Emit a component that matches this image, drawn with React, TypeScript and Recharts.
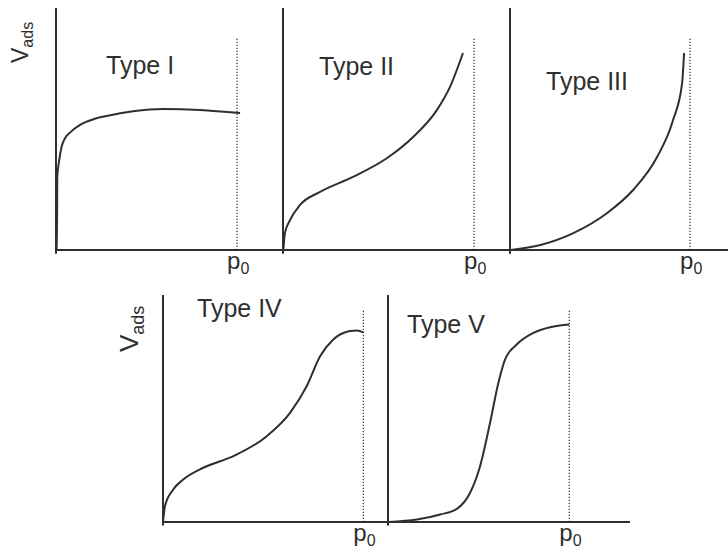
import { LineChart, Line, XAxis, YAxis, ReferenceLine } from 'recharts';

const INK = '#2f2f2f';
const FONT = '"Liberation Sans", Arial, Helvetica, sans-serif';

const typeIX = [0.003, 0.006, 0.007, 0.018, 0.031, 0.05, 0.077, 0.133, 0.206, 0.287, 0.425, 0.59, 0.796, 1.017];
const typeIY = [0, 14.5, 30.2, 37.2, 42.7, 46.2, 48.5, 51.7, 54.0, 55.5, 57.3, 58.3, 57.9, 56.6];

const typeIIX = [0.002, 0.01, 0.037, 0.089, 0.194, 0.366, 0.545, 0.681, 0.806, 0.874, 0.942];
const typeIIY = [0, 7.0, 12.4, 18.6, 24.0, 30.2, 38.0, 46.7, 57.9, 67.4, 81.4];

const typeIIIX = [0.003, 0.169, 0.352, 0.54, 0.684, 0.817, 0.906, 0.956, 0.967];
const typeIIIY = [0, 2.1, 7.0, 15.3, 24.8, 38.4, 53.7, 69.0, 81.4];

const typeIVX = [0, 0.01, 0.051, 0.101, 0.201, 0.351, 0.518, 0.634, 0.717, 0.784, 0.85, 0.933, 0.968, 1.0];
const typeIVY = [0, 7.0, 14.3, 18.7, 23.9, 29.0, 37.8, 48.1, 59.8, 73.0, 80.4, 84.1, 84.4, 83.5];

const typeVX = [0.003, 0.16, 0.288, 0.38, 0.453, 0.508, 0.563, 0.609, 0.646, 0.71, 0.802, 0.894, 1.0];
const typeVY = [0, 1.1, 3.3, 5.8, 12.9, 24.6, 43.7, 61.3, 71.6, 78.2, 83.3, 85.8, 87.0];

const P0_TICKS = [1];

const toRows = (xs: number[], ys: number[]) => xs.map((x, i) => ({ x, y: ys[i] }));

const P0Tick = ({ x, y }: any) => (
  <text x={x - 10} y={y + 19} fill={INK} fontSize={24} fontFamily={FONT}>
    p<tspan fontSize={16} dy={5}>0</tspan>
  </text>
);

interface PanelProps {
  xs: number[];
  ys: number[];
  left: number;      // page x of the y-axis
  top: number;       // page y of the axis top
  width: number;
  height: number;
  xMax: number;
  dotTop: number;    // height of the dotted p0 line, in y units
  padRight?: number;
}

const PAD = 10;
const XAXIS_H = 40;

function Panel({ xs, ys, left, top, width, height, xMax, dotTop, padRight = PAD }: PanelProps) {
  return (
    <div style={{ position: 'absolute', left: left - PAD, top: top - PAD }}>
      <LineChart
        width={width + PAD + padRight}
        height={height + PAD + XAXIS_H}
        data={toRows(xs, ys)}
        margin={{ top: PAD, right: padRight, left: PAD, bottom: 0 }}
      >
        <XAxis
          dataKey="x"
          type="number"
          domain={[0, xMax]}
          ticks={P0_TICKS}
          interval={0}
          height={XAXIS_H}
          tickLine={false}
          tickSize={0}
          tickMargin={0}
          tick={<P0Tick />}
          axisLine={{ stroke: INK, strokeWidth: 2 }}
          allowDataOverflow
        />
        <YAxis type="number" domain={[0, 100]} hide allowDataOverflow />
        {/* vertical axis, poking a little below the x-axis as in the drawing */}
        <ReferenceLine
          segment={[{ x: 0, y: -1.5 }, { x: 0, y: 100 }]}
          ifOverflow="visible"
          stroke={INK}
          strokeWidth={2}
        />
        <ReferenceLine
          segment={[{ x: 1, y: 0 }, { x: 1, y: dotTop }]}
          stroke={INK}
          strokeWidth={1.2}
          strokeDasharray="1.2 1.8"
        />
        <Line
          type="monotone"
          dataKey="y"
          stroke={INK}
          strokeWidth={2}
          dot={false}
          activeDot={false}
          isAnimationActive={false}
        />
      </LineChart>
    </div>
  );
}

export default function App() {
  return (
    <div style={{ position: 'absolute', left: 0, top: 0, width: 728, height: 554, overflow: 'hidden', background: '#fff' }}>
      <Panel xs={typeIX} ys={typeIY} left={56} top={8} width={227} height={242} xMax={1.254} dotTop={87.6} />
      <Panel xs={typeIIX} ys={typeIIY} left={283} top={8} width={227} height={242} xMax={1.188} dotTop={87.6} />
      <Panel xs={typeIIIX} ys={typeIIIY} left={510} top={8} width={218} height={242} xMax={1.211} dotTop={87.6} padRight={0} />
      <Panel xs={typeIVX} ys={typeIVY} left={163} top={295} width={225} height={227} xMax={1.123} dotTop={93.6} />
      <Panel xs={typeVX} ys={typeVY} left={388} top={295} width={242} height={227} xMax={1.335} dotTop={93.6} />

      <svg width={728} height={554} style={{ position: 'absolute', left: 0, top: 0, pointerEvents: 'none' }}>
        <g fill={INK} fontFamily={FONT} fontSize={25}>
          <text x={106} y={74}>Type I</text>
          <text x={319} y={75}>Type II</text>
          <text x={546} y={90}>Type III</text>
          <text x={197} y={317}>Type IV</text>
          <text x={407} y={333}>Type V</text>
        </g>
        <text transform="translate(28, 63) rotate(-90)" fill={INK} fontFamily={FONT} fontSize={23}>
          V<tspan fontSize={16} dy={5}>ads</tspan>
        </text>
        <text transform="translate(138, 352) rotate(-90)" fill={INK} fontFamily={FONT} fontSize={26}>
          V<tspan fontSize={18} dy={6}>ads</tspan>
        </text>
      </svg>
    </div>
  );
}
